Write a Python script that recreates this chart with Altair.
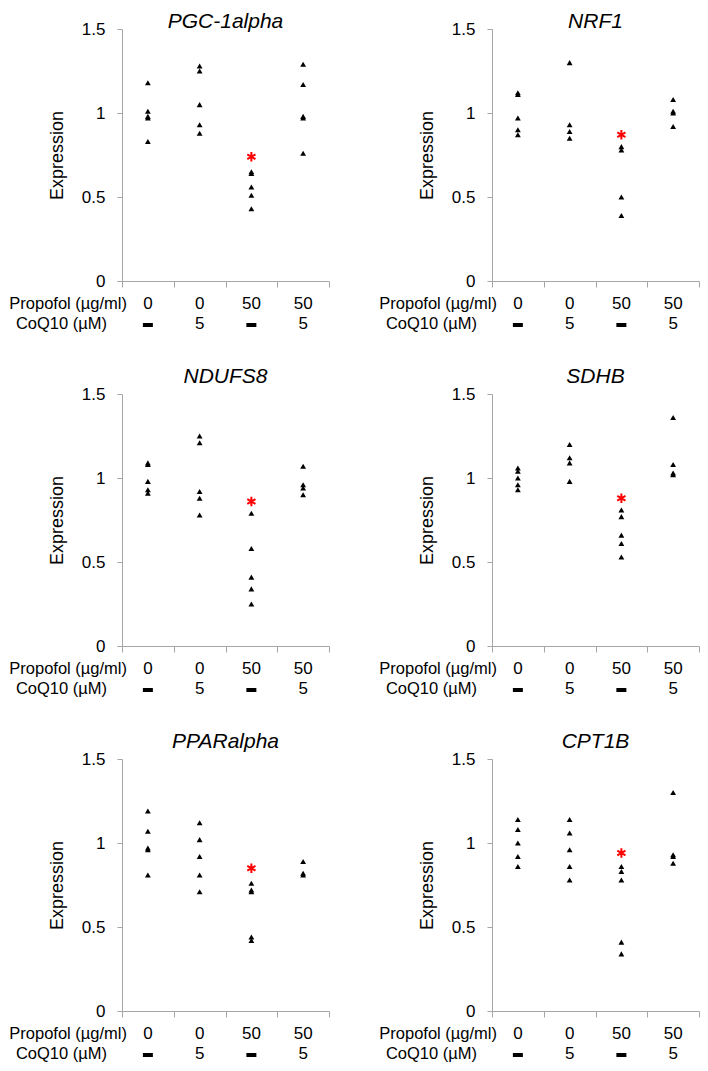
import altair as alt
import pandas as pd

genes = ["PGC-1alpha", "NRF1", "NDUFS8", "SDHB", "PPARalpha", "CPT1B"]
groups = [0, 1, 2, 3]
propofol_labels = ["0", "0", "50", "50"]
coq10_labels = ["-", "5", "-", "5"]
row_names = ["Propofol (µg/ml)", "CoQ10 (µM)"]
y_ticks = [0, 0.5, 1, 1.5]

pgc1a = [[1.18, 1.01, 0.98, 0.97, 0.83], [1.28, 1.25, 1.05, 0.93, 0.88],
         [0.65, 0.64, 0.56, 0.51, 0.43], [1.29, 1.17, 0.98, 0.97, 0.76]]
nrf1 = [[1.12, 1.11, 0.97, 0.90, 0.87], [1.30, 0.93, 0.89, 0.85],
        [0.80, 0.78, 0.50, 0.39], [1.08, 1.01, 1.00, 0.92]]
ndufs8 = [[1.09, 1.08, 0.98, 0.93, 0.91], [1.25, 1.21, 0.92, 0.88, 0.78],
          [0.79, 0.58, 0.41, 0.34, 0.25], [1.07, 0.96, 0.94, 0.90]]
sdhb = [[1.06, 1.04, 1.00, 0.96, 0.93], [1.20, 1.12, 1.09, 0.98],
        [0.81, 0.77, 0.66, 0.61, 0.53], [1.36, 1.08, 1.03, 1.02]]
ppara = [[1.19, 1.07, 0.97, 0.96, 0.81], [1.12, 1.02, 0.92, 0.81, 0.71],
         [0.76, 0.72, 0.71, 0.44, 0.42], [0.89, 0.82, 0.81]]
cpt1b = [[1.14, 1.08, 1.00, 0.92, 0.86], [1.14, 1.06, 0.96, 0.86, 0.78],
         [0.86, 0.83, 0.78, 0.41, 0.34], [1.30, 0.93, 0.92, 0.88]]
expression = [pgc1a, nrf1, ndufs8, sdhb, ppara, cpt1b]
star_values = [0.74, 0.87, 0.86, 0.88, 0.85, 0.94]
star_group = 2

FONT = "Liberation Sans"
W, H = 207, 252
AXIS_GREY = "#a6a6a6"
ASTERISK = "M0,-1L0,1M-0.866,-0.5L0.866,0.5M-0.866,0.5L0.866,-0.5"
DASH = "M-1,-0.4L1,-0.4L1,0.4L-1,0.4Z"

x_enc = alt.X("pos:Q", scale=alt.Scale(domain=[0, 4]),
              axis=alt.Axis(values=[0, 1, 2, 3, 4], labels=False, title=None,
                            grid=False, tickSize=6))
y_enc = alt.Y("value:Q", scale=alt.Scale(domain=[0, 1.5]),
              axis=alt.Axis(values=y_ticks, format=".1~f", title="Expression",
                            grid=False, tickSize=5, labelPadding=12,
                            titleX=-65, titleY=H / 2, titleAlign="center",
                            titleBaseline="middle", titleAngle=270))


def panel(i, title_base):
    gene = genes[i]
    pts = pd.DataFrame([{"group": g, "value": v}
                        for g, vals in enumerate(expression[i]) for v in vals])
    star = pd.DataFrame({"group": [star_group], "value": [star_values[i]]})
    labs = pd.DataFrame({"group": groups, "propofol": propofol_labels,
                         "coq10": coq10_labels})

    points = alt.Chart(pts).transform_calculate(pos="datum.group + 0.5").mark_point(
        shape="triangle-up", filled=True, color="black", size=34, opacity=1
    ).encode(x=x_enc, y=y_enc)

    stars = alt.Chart(star).transform_calculate(pos="datum.group + 0.5").mark_point(
        shape=ASTERISK, filled=False, stroke="#ff0000", strokeWidth=2, size=90, opacity=1
    ).encode(x=x_enc, y=y_enc)

    prop_text = alt.Chart(labs).transform_calculate(pos="datum.group + 0.5").mark_text(
        font=FONT, fontSize=17, baseline="middle", align="center", color="black"
    ).encode(x=x_enc, y=alt.value(H + 23), text="propofol:N")

    coq_text = alt.Chart(labs).transform_filter("datum.coq10 != '-'").transform_calculate(
        pos="datum.group + 0.5").mark_text(
        font=FONT, fontSize=17, baseline="middle", align="center", color="black"
    ).encode(x=x_enc, y=alt.value(H + 43), text="coq10:N")

    coq_dash = alt.Chart(labs).transform_filter("datum.coq10 == '-'").transform_calculate(
        pos="datum.group + 0.5").mark_point(
        shape=DASH, filled=True, color="black", size=100, opacity=1
    ).encode(x=x_enc, y=alt.value(H + 44))

    rn = pd.DataFrame({"t": [row_names[0]]})
    rn2 = pd.DataFrame({"t": [row_names[1]]})
    row1 = alt.Chart(rn).mark_text(font=FONT, fontSize=16.5, align="right",
                                   baseline="middle", color="black").encode(
        x=alt.value(5), y=alt.value(H + 23), text="t:N")
    row2 = alt.Chart(rn2).mark_text(font=FONT, fontSize=16.5, align="right",
                                    baseline="middle", color="black").encode(
        x=alt.value(-15), y=alt.value(H + 43), text="t:N")

    tt = pd.DataFrame({"t": [gene]})
    title = alt.Chart(tt).mark_text(font=FONT, fontSize=21, fontStyle="italic",
                                    align="center", baseline="alphabetic",
                                    color="black").encode(
        x=alt.value(W / 2), y=alt.value(title_base), text="t:N")

    return alt.layer(points, stars, prop_text, coq_text, coq_dash, row1, row2,
                     title).properties(width=W, height=H)


panels = [panel(i, -1 if i < 2 else -11) for i in range(6)]

chart = alt.concat(*panels, columns=2, spacing={"row": 113, "column": 163},
                   bounds="flush").properties(
    autosize=alt.AutoSizeParams(type="none"),
    padding={"left": 114, "top": 21, "right": 578, "bottom": 1034}
).configure_view(stroke=None).configure_axis(
    labelFont=FONT, titleFont=FONT, labelFontSize=17, labelColor="black",
    titleFontSize=18, titleFontWeight="normal", titleColor="black",
    domainColor=AXIS_GREY, tickColor=AXIS_GREY, grid=False
)

chart.save("out.html", embed_options={"renderer": "svg", "actions": False})
